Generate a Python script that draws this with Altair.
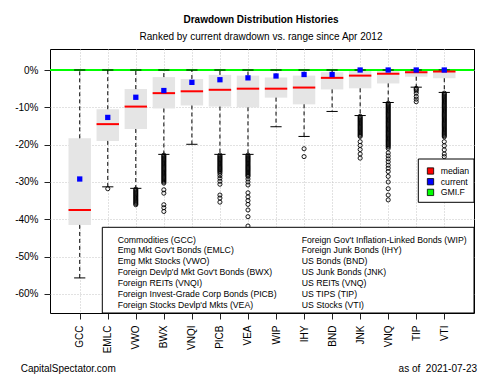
import altair as alt
import pandas as pd

FONT = "Liberation Sans"

tickers = ["GCC", "EMLC", "VWO", "BWX", "VNQI", "PICB", "VEA", "WIP", "IHY", "BND", "JNK", "VNQ", "TIP", "VTI"]
box_top = [-18.3, -10.5, -5.1, -1.9, -2.4, -1.3, -1.5, -2.0, -1.5, -0.6, -0.2, -0.05, -0.05, -0.05]
box_bottom = [-41.5, -19.0, -15.8, -10.3, -9.5, -9.8, -10.0, -7.4, -9.2, -5.2, -4.9, -3.6, -1.8, -2.2]
medians = [-37.5, -14.5, -9.8, -6.2, -5.7, -5.3, -5.0, -5.0, -4.7, -2.1, -1.5, -1.0, -0.6, -0.4]
current = [-29.2, -12.7, -7.3, -5.5, -3.3, -2.6, -2.1, -1.6, -1.2, -1.2, 0.0, 0.0, 0.0, 0.0]
whisker_low = [-55.7, -31.3, -31.7, -22.6, -19.9, -22.6, -22.6, -15.2, -17.8, -11.1, -12.2, -8.7, -4.6, -6.0]
whisker_high = [0.0, 0.0, 0.0, 0.0, 0.0, 0.0, 0.0, 0.0, 0.0, 0.0, 0.0, 0.0, 0.0, 0.0]
gmi_current = [0.0]

out_EMLC = [-31.8]
out_VWO = [-31.9, -32.2, -32.5, -32.8, -33.1, -33.4, -33.7, -34.0, -34.3, -34.6, -34.9,
           -35.2, -35.5, -35.8, -36.1]
out_BWX = [-22.8, -23.1, -23.4, -23.7, -24.0, -24.3, -24.6, -24.9, -25.2, -25.5, -25.8,
           -26.1, -26.4, -26.7, -27.0, -27.3, -27.6, -27.9, -28.2, -28.5, -28.8, -29.1,
           -29.4, -29.7, -30.0, -30.3, -32.1, -33.0, -36.1, -36.9, -37.9]
out_PICB = [-22.8, -23.1, -23.4, -23.7, -24.0, -24.3, -24.6, -24.9, -25.2, -25.5, -25.8,
            -26.1, -26.4, -26.7, -27.0, -27.3, -27.7, -28.3, -29.0, -29.8, -30.6,
            -33.5, -34.3, -35.4]
out_VEA = [-22.8, -23.1, -23.4, -23.7, -24.0, -24.3, -24.6, -24.9, -25.2, -25.5, -25.8,
           -26.1, -26.4, -26.7, -27.0, -27.3, -27.6, -27.9, -28.2, -28.5, -29.2, -30.0,
           -30.8, -32.9, -34.0, -35.0, -36.0, -37.5, -39.3, -41.8]
out_IHY = [-21.1, -23.2]
out_JNK = [-12.4, -12.7, -13.0, -13.3, -13.6, -13.9, -14.2, -14.5, -14.8, -15.1, -15.4,
           -15.7, -16.0, -16.3, -16.6, -16.9, -17.2, -17.5, -17.8, -19.2, -20.2, -21.3,
           -22.5, -23.6]
out_VNQ = [-8.9, -9.2, -9.5, -9.8, -10.1, -10.4, -10.7, -11.0, -11.3, -11.6, -11.9,
           -12.2, -12.5, -12.8, -13.1, -13.4, -13.7, -14.0, -14.3, -14.6, -14.9, -15.2,
           -15.5, -15.8, -16.1, -16.4, -16.7, -17.0, -17.3, -17.6, -17.9, -18.2, -18.5,
           -18.8, -19.1, -19.4, -19.7, -20.0, -20.3, -20.6, -21.0, -22.2, -23.0, -23.8,
           -24.6, -25.5, -26.3, -27.2, -28.5, -30.0, -31.8, -33.5, -34.8]
out_TIP = [-4.9, -5.2, -5.6, -6.2, -7.1, -7.8, -8.5]
out_VTI = [-6.2, -6.5, -6.8, -7.1, -7.4, -7.7, -8.0, -8.3, -8.6, -8.9, -9.2, -9.5,
           -9.8, -10.1, -10.4, -10.7, -11.0, -11.3, -11.6, -11.9, -12.2, -12.5, -12.8,
           -13.1, -13.4, -13.7, -14.0, -14.3, -14.6, -14.9, -15.2, -15.5, -15.8, -16.1,
           -16.4, -16.7, -17.0, -17.3, -17.6, -17.9, -19.2, -20.3, -21.4, -22.5, -23.2]

names_left = ["Commodities (GCC)", "Emg Mkt Gov't Bonds (EMLC)", "Emg Mkt Stocks (VWO)",
              "Foreign Devlp'd Mkt Gov't Bonds (BWX)", "Foreign REITs (VNQI)",
              "Foreign Invest-Grade Corp Bonds (PICB)", "Foreign Stocks Devlp'd Mkts (VEA)"]
names_right = ["Foreign Gov't Inflation-Linked Bonds (WIP)", "Foreign Junk Bonds (IHY)",
               "US Bonds (BND)", "US Junk Bonds (JNK)", "US REITs (VNQ)",
               "US TIPS (TIP)", "US Stocks (VTI)"]

legend_labels = ["median", "current", "GMI.F"]
legend_colors = ["#ff0000", "#0000ff", "#00ff00"]

title_text = "Drawdown Distribution Histories"
subtitle_text = "Ranked by current drawdown vs. range since Apr 2012"
footer_left = "CapitalSpectator.com"
footer_right = "as of\u00a0 2021-07-23"

# ---------------------------------------------------------------- tables
df = pd.DataFrame({
    "idx": list(range(1, len(tickers) + 1)),
    "ticker": tickers,
    "q3": box_top, "q1": box_bottom, "med": medians, "cur": current,
    "wlo": whisker_low, "whi": whisker_high,
})

out_map = {"EMLC": out_EMLC, "VWO": out_VWO, "BWX": out_BWX, "PICB": out_PICB,
           "VEA": out_VEA, "IHY": out_IHY, "JNK": out_JNK, "VNQ": out_VNQ,
           "TIP": out_TIP, "VTI": out_VTI}
rows = []
for t, vals in out_map.items():
    for v in vals:
        rows.append({"idx": tickers.index(t) + 1, "val": v})
df_out = pd.DataFrame(rows)

xs = alt.Scale(domain=[-0.06, 15.06], nice=False, zero=False)
ys = alt.Scale(domain=[-65.1, 5.63], nice=False, zero=False)

label_arr = "[''," + ",".join("'" + t + "'" for t in tickers) + "]"

xaxis = alt.Axis(values=list(range(1, len(tickers) + 1)), labelExpr=label_arr + "[datum.value]",
                 labelAngle=-90, labelFontSize=10, labelFont=FONT, labelColor="#000",
                 tickColor="#222", tickSize=6, labelPadding=6, domain=False, title=None,
                 grid=True, gridDash=[1, 2], gridColor="#c4c4c4", labelOverlap=False,
                 labelAlign="right", labelBaseline="middle")
yaxis = alt.Axis(values=[0, -10, -20, -30, -40, -50, -60], labelExpr="datum.value + '%'",
                 labelFontSize=10, labelFont=FONT, labelColor="#000", tickColor="#222",
                 tickSize=6, labelPadding=6, domain=False, title=None, grid=True,
                 gridDash=[1, 2], gridColor="#c4c4c4")


def X(field):
    return alt.X(field, scale=xs, axis=xaxis, title=None)


def Y(field):
    return alt.Y(field, scale=ys, axis=yaxis, title=None)


base = alt.Chart(df)

boxes = base.mark_rect(color="#e5e5e5").transform_calculate(
    xl="datum.idx - 0.4", xr="datum.idx + 0.4"
).encode(x=X("xl:Q"), x2="xr:Q", y=Y("q1:Q"), y2="q3:Q")

gmi = alt.Chart(pd.DataFrame({"g": gmi_current})).mark_rule(
    color="#00ff00", strokeWidth=2.2
).encode(y=Y("g:Q"))

wh_lo = base.mark_rule(color="black", strokeDash=[4, 3], strokeWidth=1).encode(
    x=X("idx:Q"), y=Y("q1:Q"), y2="wlo:Q")
wh_hi = base.mark_rule(color="black", strokeDash=[4, 3], strokeWidth=1).encode(
    x=X("idx:Q"), y=Y("q3:Q"), y2="whi:Q")

caps_lo = base.mark_rule(color="black", strokeWidth=1).transform_calculate(
    cl="datum.idx - 0.2", cr="datum.idx + 0.2"
).encode(x=X("cl:Q"), x2="cr:Q", y=Y("wlo:Q"))
caps_hi = base.mark_rule(color="black", strokeWidth=1).transform_calculate(
    cl="datum.idx - 0.2", cr="datum.idx + 0.2"
).encode(x=X("cl:Q"), x2="cr:Q", y=Y("whi:Q"))

outliers = alt.Chart(df_out).mark_point(
    shape="circle", filled=False, color="black", size=17, strokeWidth=0.9, opacity=1
).encode(x=X("idx:Q"), y=Y("val:Q"))

med = base.mark_rule(color="#ff0000", strokeWidth=2).transform_calculate(
    xl="datum.idx - 0.4", xr="datum.idx + 0.4"
).encode(x=X("xl:Q"), x2="xr:Q", y=Y("med:Q"))

cur = base.mark_square(color="#0000ff", size=28, opacity=1).encode(
    x=X("idx:Q"), y=Y("cur:Q"))

one = pd.DataFrame({"a": [0]})

deco = []
deco.append(alt.Chart(one).mark_rect(fill="white", stroke="black", strokeWidth=1).encode(
    x=alt.value(52.3), x2=alt.value(424), y=alt.value(178.3), y2=alt.value(264)))

for i, nm in enumerate(names_left):
    deco.append(alt.Chart(one).mark_text(
        align="left", baseline="middle", font=FONT, fontSize=8.7, color="black"
    ).encode(x=alt.value(67.7), y=alt.value(190.5 + 10.85 * i), text=alt.value(nm)))
for i, nm in enumerate(names_right):
    deco.append(alt.Chart(one).mark_text(
        align="left", baseline="middle", font=FONT, fontSize=8.7, color="black"
    ).encode(x=alt.value(251.7), y=alt.value(190.5 + 10.85 * i), text=alt.value(nm)))

deco.append(alt.Chart(one).mark_rect(fill="white", stroke="black", strokeWidth=1).encode(
    x=alt.value(368.3), x2=alt.value(424), y=alt.value(110), y2=alt.value(153.3)))
for i, (lab, col) in enumerate(zip(legend_labels, legend_colors)):
    deco.append(alt.Chart(one).mark_square(
        size=40, stroke="black", strokeWidth=0.8, opacity=1, fill=col
    ).encode(x=alt.value(380.5), y=alt.value(122 + 10.7 * i)))
    deco.append(alt.Chart(one).mark_text(
        align="left", baseline="middle", font=FONT, fontSize=8.7, color="black"
    ).encode(x=alt.value(390.7), y=alt.value(122 + 10.7 * i), text=alt.value(lab)))

deco.append(alt.Chart(one).mark_text(
    font=FONT, fontSize=10, fontWeight="bold", color="black", align="center", baseline="middle"
).encode(x=alt.value(211), y=alt.value(-29), text=alt.value(title_text)))
deco.append(alt.Chart(one).mark_text(
    font=FONT, fontSize=10, color="black", align="center", baseline="middle"
).encode(x=alt.value(211), y=alt.value(-12), text=alt.value(subtitle_text)))
deco.append(alt.Chart(one).mark_text(
    font=FONT, fontSize=10, color="black", align="left", baseline="middle"
).encode(x=alt.value(-29.3), y=alt.value(319.5), text=alt.value(footer_left)))
deco.append(alt.Chart(one).mark_text(
    font=FONT, fontSize=10, color="black", align="right", baseline="middle"
).encode(x=alt.value(427), y=alt.value(319.5), text=alt.value(footer_right)))

chart = alt.layer(
    boxes, gmi, wh_lo, wh_hi, caps_lo, caps_hi, outliers, med, cur, *deco
).properties(
    width=424, height=264, autosize="none",
    padding={"left": 50, "top": 49, "right": 26, "bottom": 62},
    background="white",
).configure_view(stroke="black", strokeWidth=1)

chart.save("out.html", embed_options={"renderer": "svg", "actions": False})
